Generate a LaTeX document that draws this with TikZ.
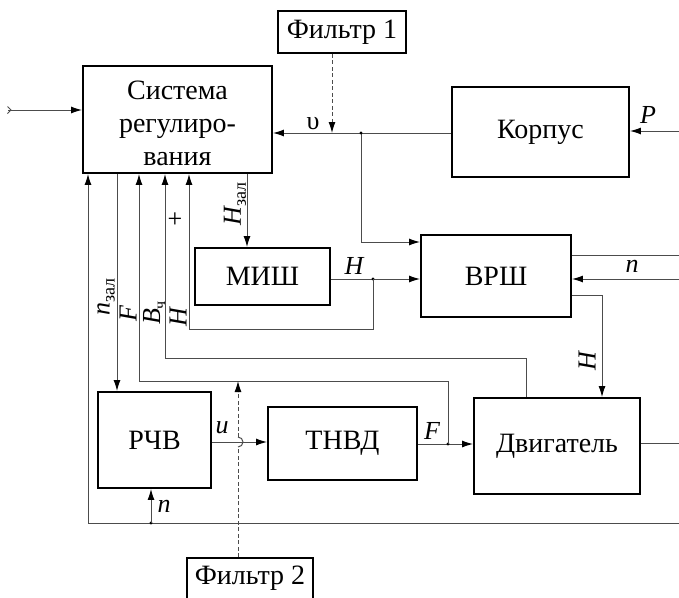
\documentclass[tikz,border=0pt]{standalone}
\usepackage{fontspec}
\setmainfont{Liberation Serif}
\usetikzlibrary{arrows.meta}
\begin{document}
\begin{tikzpicture}[x=1pt,y=-1pt,
  blk/.style={draw,line width=1.9pt,inner sep=0pt,font=\fontsize{28}{33}\selectfont,align=center},
  con/.style={line width=1pt,draw=black!70},
  tip/.style={-{Latex[length=11pt,width=7pt,fill=black,color=black]}},
  arr/.style={con,tip},
  dsh/.style={con,dash pattern=on 4pt off 2.5pt},
  lab/.style={inner sep=0pt,font=\fontsize{26}{30}\selectfont\itshape},
  dot/.style={circle,fill=black,inner sep=0pt,minimum size=3.2pt}]
\useasboundingbox (0,0) rectangle (679,597);
\begin{scope}
\clip (0,0) rectangle (679,597);
% blocks
\node[blk,minimum width=128pt,minimum height=42pt] (filt1) at (342,32) {Фильтр 1};
\node[blk,minimum width=189pt,minimum height=107pt] (sys) at (177.5,119.5) {};
\node[inner sep=0pt,font=\fontsize{28}{33}\selectfont,align=center] (syst) at (177.5,123) {Система\\[0pt]регулиро-\\[0pt]вания};
\node[blk,minimum width=177pt,minimum height=90pt] (korp) at (540.5,132) {Корпус};
\node[blk,minimum width=150pt,minimum height=82pt] (vrsh) at (496,276) {ВРШ};
\node[blk,minimum width=135pt,minimum height=57pt] (mish) at (262.5,276.5) {МИШ};
\node[blk,minimum width=113pt,minimum height=96pt] (rchv) at (154.5,440) {РЧВ};
\node[blk,minimum width=149pt,minimum height=73pt] (tnvd) at (342.5,443.5) {ТНВД};
\node[blk,minimum width=166pt,minimum height=96pt] (dvig) at (557,446) {Двигатель};
\node[blk,minimum width=126pt,minimum height=82pt] (filt2) at (250,599) {};
\node[inner sep=0pt,font=\fontsize{28}{33}\selectfont] (filt2t) at (250,578) {Фильтр 2};
\end{scope}
% lanes
\coordinate (xn) at (88,0);
\coordinate (xnz) at (117,0);
\coordinate (xF) at (139,0);
\coordinate (xnr) at (151,0);
\coordinate (xB) at (165,0);
\coordinate (xH) at (189,0);
\coordinate (xf2) at (238,0);
\coordinate (xHz) at (247,0);
\coordinate (xf1) at (332,0);
\coordinate (xv) at (361,0);
\coordinate (xhj) at (373,0);
\coordinate (xFj) at (448,0);
\coordinate (xBd) at (526,0);
\coordinate (xHv) at (602,0);
\coordinate (xr) at (679,0);
\coordinate (yin) at (0,110);
\coordinate (yP) at (0,131);
\coordinate (yv) at (0,133);
\coordinate (yvr) at (0,242);
\coordinate (yvo) at (0,255);
\coordinate (yH) at (0,279);
\coordinate (yvo2) at (0,295);
\coordinate (yHl) at (0,329);
\coordinate (yBl) at (0,358);
\coordinate (yFl) at (0,381);
\coordinate (yu) at (0,442);
\coordinate (yd) at (0,443);
\coordinate (yF) at (0,444);
\coordinate (yb) at (0,523);
\coordinate (in) at (8,110);
% input
\draw[arr] (in) -- (sys.west |- yin);
\draw[con] (7.5,106.5) -- (11,110) -- (7.5,113.5);
% v
\coordinate (vj) at (xv |- yv);
\draw[arr] (korp.west |- yv) -- (sys.east |- yv);
\draw[arr] (vj) |- (vrsh.west |- yvr);
\node[dot] at (vj) {};
\draw[dsh,tip] (filt1.south -| xf1) -- (xf1 |- yv);
\node[inner sep=0pt,font=\fontsize{26}{30}\selectfont] at (313,124) {υ};
% P
\draw[arr] (xr |- yP) -- (korp.east |- yP);
\node[lab] at (648,115) {P};
% Hzal
\draw[arr] (sys.south -| xHz) -- (mish.north -| xHz);
\node[lab,rotate=90] at (235,204) {H\raisebox{-5pt}{\upshape\fontsize{18}{20}\selectfont зал}};
% MISh -> VRSh
\coordinate (hj) at (xhj |- yH);
\draw[arr] (mish.east |- yH) -- (vrsh.west |- yH);
\node[dot] at (hj) {};
\node[lab] at (354,266) {H};
\draw[arr] (hj) |- (xH |- yHl) -- (sys.south -| xH);
\node[inner sep=0pt,font=\fontsize{26}{30}\selectfont] at (175,220) {+};
% VRSh outputs
\draw[con] (vrsh.east |- yvo) -- (xr |- yvo);
\draw[arr] (xr |- yH) -- (vrsh.east |- yH);
\node[lab] at (632,266) {n};
\draw[arr] (vrsh.east |- yvo2) -| (dvig.north -| xHv);
\node[lab,rotate=90] at (587,361) {H};
% B
\draw[arr] (dvig.north -| xBd) |- (xB |- yBl) -- (sys.south -| xB);
% F
\coordinate (fj) at (xFj |- yF);
\draw[arr] (tnvd.east |- yF) -- (dvig.west |- yF);
\node[dot] at (fj) {};
\node[lab] at (432,431) {F};
\draw[arr] (fj) |- (xF |- yFl) -- (sys.south -| xF);
% nzal
\draw[arr] (sys.south -| xnz) -- (rchv.north -| xnz);
% u
\draw[arr] (rchv.east |- yu) -- (tnvd.west |- yu);
\node[lab] at (222,428) {u};
% filter 2
\draw[dsh] (filt2.north -| xf2) -- ([yshift=-5pt]xf2 |- yu);
\draw[con] ([yshift=-5pt]xf2 |- yu) arc[start angle=-90,end angle=90,radius=5pt];
\draw[dsh,tip] ([yshift=5pt]xf2 |- yu) -- (xf2 |- yFl);
% engine output
\draw[con] (dvig.east |- yd) -- (xr |- yd);
% bottom loop
\coordinate (nj) at (xnr |- yb);
\draw[arr] (xr |- yb) -| (sys.south -| xn);
\node[dot] at (nj) {};
\draw[arr] (nj) -- (rchv.south -| xnr);
\node[lab] at (164,506) {n};
% rotated labels
\node[lab,rotate=90] at (106,297) {n\raisebox{-5pt}{\upshape\fontsize{18}{20}\selectfont зал}};
\node[lab,rotate=90] at (128,314) {F};
\node[lab,rotate=90] at (154,313) {B\raisebox{-5pt}{\upshape\fontsize{16}{18}\selectfont ч}};
\node[lab,rotate=90] at (178,317) {H};
\end{tikzpicture}
\end{document}
